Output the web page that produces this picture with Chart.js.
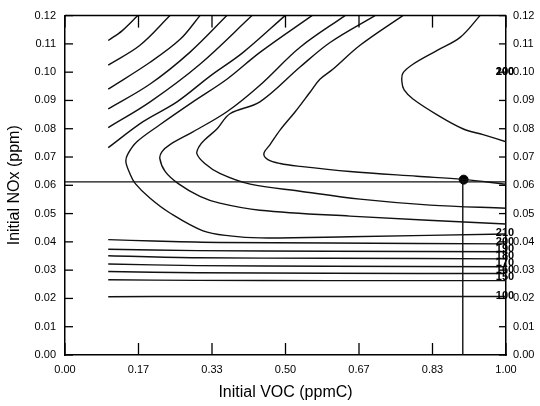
<!DOCTYPE html>
<html><head><meta charset="utf-8">
<script src="https://cdn.jsdelivr.net/npm/chart.js@4.4.0/dist/chart.umd.min.js"></script>
<style>html,body{margin:0;padding:0;background:#fff}</style>
</head><body>
<canvas id="c" width="540" height="406"></canvas>
<script>
// ---- Axis ticks ----
const xTickValues = [0, 1/6, 2/6, 0.5, 4/6, 5/6, 1];
const xTickLabels = ["0.00","0.17","0.33","0.50","0.67","0.83","1.00"];
const yTickValues = [0,0.01,0.02,0.03,0.04,0.05,0.06,0.07,0.08,0.09,0.10,0.11,0.12];
const yTickLabels = ["0.00","0.01","0.02","0.03","0.04","0.05","0.06","0.07","0.08","0.09","0.10","0.11","0.12"];

// ---- Isopleth lines (x = initial VOC ppmC, y = initial NOx ppm) ----
const diag1 = [[0.098,0.1112],[0.130,0.1147],[0.165,0.1200]];
const diag2 = [[0.098,0.1025],[0.170,0.1095],[0.238,0.1200]];
const diag3 = [[0.098,0.0940],[0.193,0.1035],[0.261,0.1116],[0.306,0.1200]];
const diag4 = [[0.098,0.0870],[0.193,0.0958],[0.283,0.1070],[0.367,0.1200]];
const diag5 = [[0.098,0.0804],[0.193,0.0895],[0.306,0.1028],[0.424,0.1200]];
const diag6 = [[0.098,0.0733],[0.177,0.0825],[0.254,0.0895],[0.329,0.0986],[0.404,0.1070],[0.499,0.1200]];
const curve1 = [[0.560,0.1200],[0.442,0.1070],[0.367,0.0975],[0.290,0.0895],[0.215,0.0814],[0.163,0.0754],[0.143,0.0712],[0.138,0.0684],[0.147,0.0642],[0.159,0.0607],[0.193,0.0554],[0.238,0.0502],[0.313,0.0439],[0.374,0.0421],[0.442,0.0414],[0.646,0.0418],[1.000,0.0428]];
const curve2 = [[0.635,0.1200],[0.533,0.1088],[0.442,0.0954],[0.367,0.0860],[0.290,0.0789],[0.238,0.0744],[0.220,0.0719],[0.215,0.0695],[0.227,0.0649],[0.256,0.0607],[0.306,0.0561],[0.351,0.0537],[0.442,0.0512],[0.646,0.0491],[1.000,0.0463]];
const curve3 = [[0.703,0.1200],[0.601,0.1105],[0.533,0.1018],[0.442,0.0895],[0.374,0.0853],[0.345,0.0800],[0.317,0.0761],[0.304,0.0737],[0.299,0.0712],[0.317,0.0677],[0.351,0.0642],[0.420,0.0604],[0.533,0.0579],[0.669,0.0551],[0.828,0.0530],[1.000,0.0519]];
const curve4 = [[0.766,0.1200],[0.669,0.1095],[0.608,0.1011],[0.578,0.0975],[0.556,0.0930],[0.522,0.0860],[0.488,0.0796],[0.465,0.0744],[0.451,0.0712],[0.460,0.0691],[0.488,0.0677],[0.533,0.0667],[0.646,0.0649],[0.798,0.0632],[0.902,0.0621],[1.000,0.0604]];
const curve5 = [[0.941,0.1200],[0.896,0.1123],[0.844,0.1077],[0.789,0.1028],[0.766,0.0996],[0.764,0.0965],[0.769,0.0937],[0.789,0.0905],[0.844,0.0849],[0.902,0.0800],[0.948,0.0779],[1.000,0.0754]];
const flat1 = [[0.098,0.0408],[0.200,0.0403],[0.350,0.0398],[0.600,0.0396],[1.000,0.0393]];
const flat2 = [[0.098,0.0374],[0.300,0.0369],[0.600,0.0367],[1.000,0.0365]];
const flat3 = [[0.098,0.0351],[0.300,0.0344],[0.600,0.0342],[1.000,0.0340]];
const flat4 = [[0.098,0.0322],[0.300,0.0316],[0.600,0.0314],[1.000,0.0312]];
const flat5 = [[0.098,0.0295],[0.300,0.0291],[0.600,0.0289],[1.000,0.0288]];
const flat6 = [[0.098,0.0266],[0.300,0.0264],[0.600,0.0263],[1.000,0.0263]];
const flat7 = [[0.098,0.0206],[0.300,0.0207],[0.600,0.0207],[1.000,0.0207]];

// ---- Reference (design) point and guide lines ----
const refNOx = 0.0612;
const refVOC = 0.902;
const refPoint = [[0.904, 0.0620]];

// ---- Line labels drawn at the right edge ----
const labelTexts = ["200","100","210","200","190","180","170","160","150","100"];
const labelNOx   = [0.1000,0.1000,0.0430,0.0400,0.0375,0.0350,0.0325,0.0300,0.0275,0.0210];

const toPts = a => a.map(p => ({x:p[0], y:p[1]}));
const isoLines = [diag1,diag2,diag3,diag4,diag5,diag6,curve1,curve2,curve3,curve4,curve5,flat1,flat2,flat3,flat4,flat5,flat6,flat7];

const datasets = isoLines.map(l => ({
  data: toPts(l), showLine:true, borderColor:'#111', borderWidth:1.4,
  pointRadius:0, tension:0.35, fill:false
}));
datasets.push({data: toPts([[0,refNOx],[1,refNOx]]), showLine:true, borderColor:'#111', borderWidth:1.4, pointRadius:0, tension:0});
datasets.push({data: toPts([[refVOC,0],[refVOC,refPoint[0][1]]]), showLine:true, borderColor:'#111', borderWidth:1.4, pointRadius:0, tension:0});
datasets.push({data: toPts(refPoint), showLine:false, pointRadius:4.5, pointBackgroundColor:'#000', pointBorderColor:'#000'});

const frameTicks = {
  id:'frameTicks',
  afterDatasetsDraw(chart){
    const {ctx, chartArea:a, scales:{x,y}} = chart;
    ctx.save();
    ctx.strokeStyle='#000'; ctx.lineWidth=1.5;
    ctx.beginPath(); ctx.moveTo(a.left,a.top); ctx.lineTo(a.right,a.top); ctx.stroke();
    ctx.lineWidth=1.3;
    xTickValues.forEach(v=>{
      const px = x.getPixelForValue(v);
      ctx.beginPath(); ctx.moveTo(px,a.bottom); ctx.lineTo(px,a.bottom-12); ctx.stroke();
      ctx.beginPath(); ctx.moveTo(px,a.top); ctx.lineTo(px,a.top+12); ctx.stroke();
    });
    yTickValues.forEach(v=>{
      const py = y.getPixelForValue(v);
      ctx.beginPath(); ctx.moveTo(a.left,py); ctx.lineTo(a.left+8,py); ctx.stroke();
      ctx.beginPath(); ctx.moveTo(a.right,py); ctx.lineTo(a.right-7,py); ctx.stroke();
    });
    ctx.fillStyle='#000';
    ctx.font='bold 11px "Liberation Sans", Arial, sans-serif';
    ctx.textAlign='center'; ctx.textBaseline='middle';
    labelTexts.forEach((t,i)=>{
      ctx.fillText(t, x.getPixelForValue(1)-1, y.getPixelForValue(labelNOx[i]));
    });
    ctx.restore();
  }
};

const tickFont = {family:'"Liberation Sans", Arial, sans-serif', size:11};
const titleFont = {family:'"Liberation Sans", Arial, sans-serif', size:16};

new Chart(document.getElementById('c'), {
  type:'scatter',
  data:{datasets},
  options:{
    responsive:false, animation:false, devicePixelRatio:1,
    layout:{padding:{top:13,left:0,right:0,bottom:0}},
    plugins:{legend:{display:false}, tooltip:{enabled:false}},
    scales:{
      x:{type:'linear', position:'bottom', min:0, max:1,
        afterBuildTicks:s=>{s.ticks = xTickValues.map(v=>({value:v}));},
        afterFit:s=>{s.height=51;},
        ticks:{autoSkip:false, maxRotation:0, padding:8, color:'#000', font:tickFont,
          callback:(v,i)=>xTickLabels[i]},
        grid:{display:true, drawOnChartArea:false, drawTicks:false},
        border:{display:true, color:'#000', width:1.5},
        title:{display:true, text:'Initial VOC (ppmC)', color:'#000', font:titleFont, padding:{top:2,bottom:4}}
      },
      y:{type:'linear', position:'left', min:0, max:0.12,
        afterBuildTicks:s=>{s.ticks = yTickValues.map(v=>({value:v}));},
        afterFit:s=>{s.width=65;},
        ticks:{autoSkip:false, padding:9, color:'#000', font:tickFont,
          callback:(v,i)=>yTickLabels[i]},
        grid:{display:true, drawOnChartArea:false, drawTicks:false},
        border:{display:true, color:'#000', width:1.5},
        title:{display:true, text:'Initial NOx (ppm)', color:'#000', font:titleFont, padding:{top:5,bottom:2}}
      },
      y2:{type:'linear', position:'right', min:0, max:0.12,
        afterBuildTicks:s=>{s.ticks = yTickValues.map(v=>({value:v}));},
        afterFit:s=>{s.width=34;},
        ticks:{autoSkip:false, padding:7, color:'#000', font:tickFont,
          callback:(v,i)=>yTickLabels[i]},
        grid:{display:true, drawOnChartArea:false, drawTicks:false},
        border:{display:true, color:'#000', width:1.5}
      }
    }
  },
  plugins:[frameTicks]
});
</script>
</body></html>
